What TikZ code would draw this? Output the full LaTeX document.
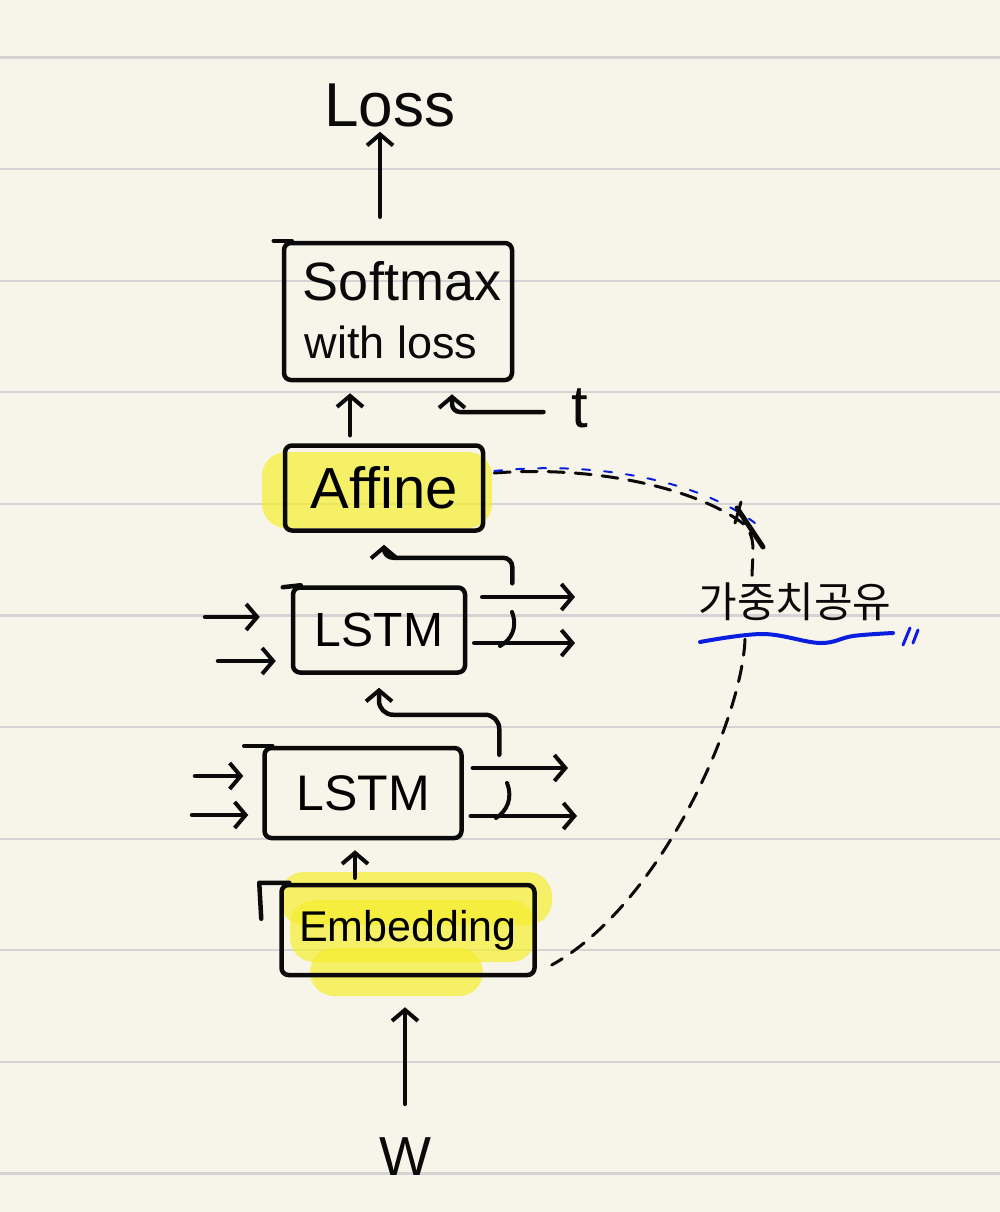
\documentclass[tikz,border=0pt]{standalone}
\usepackage{fontspec}
\setmainfont{Liberation Sans}
\newfontfamily\krfont{Noto Sans CJK KR}
\usetikzlibrary{arrows.meta,calc}
\definecolor{paper}{HTML}{F7F5EA}
\definecolor{rulecol}{HTML}{D4D4D4}
\definecolor{hl}{HTML}{F5EE2E}
\definecolor{ink}{HTML}{0A0A0A}
\definecolor{pen}{HTML}{0A1EE0}
\begin{document}
\begin{tikzpicture}[x=1pt,y=-1pt,
  box/.style={draw=ink,line width=4.5pt,rounded corners=7pt,inner sep=0pt},
  lbl/.style={text=ink,inner sep=0pt},
  stroke/.style={draw=ink,line width=4.5pt,line cap=round,line join=round},
  arr/.style={stroke,-{Straight Barb[length=11pt,width=26pt,line width=4pt]}},
  share/.style={draw=ink,line width=3pt,line cap=round,dash pattern=on 16pt off 11pt},
  hilite/.style={fill=hl,opacity=0.7,rounded corners=24pt}]
% paper
\fill[paper] (0,0) rectangle (1000,1212);
\useasboundingbox (0,0) rectangle (1000,1212);
\foreach \k in {0,...,10}
  \draw[rulecol,line width=2.2pt] (0,57.5+111.6*\k) -- (1000,57.5+111.6*\k);
% highlights
\fill[hilite] (262,452) rectangle (492,528);
\fill[hilite] (280,872) rectangle (552,925);
\fill[hilite] (290,900) rectangle (535,962);
\fill[hilite] (310,948) rectangle (483,996);
% nodes
\node[lbl,font=\fontsize{62}{66}\selectfont] (loss) at (390,105) {Loss};
\node[box,minimum width=228pt,minimum height=137pt] (softmax) at (398,311.5) {};
\node[lbl,anchor=base,font=\fontsize{54}{60}\selectfont] (smtop) at (402,300) {Softmax};
\node[lbl,anchor=base,font=\fontsize{45}{50}\selectfont] (smbot) at (391,358) {with loss};
\node[lbl,font=\fontsize{60}{64}\selectfont] (t) at (580,408) {t};
\node[box,minimum width=198pt,minimum height=85pt,font=\fontsize{58}{60}\selectfont] (affine) at (384,488) {Affine};
\node[box,minimum width=172pt,minimum height=85pt,font=\fontsize{48}{52}\selectfont] (lstm2) at (379,630) {LSTM};
\node[box,minimum width=197pt,minimum height=90pt,font=\fontsize{50}{54}\selectfont] (lstm1) at (363,793) {LSTM};
\node[box,minimum width=253pt,minimum height=90pt,font=\fontsize{43}{48}\selectfont] (embed) at (408,930) {Embedding};
\node[lbl,font=\fontsize{55}{58}\selectfont] (w) at (405,1157) {W};
\node[lbl,font=\krfont\fontsize{42}{46}\selectfont] (sharelbl) at (795,602) {가중치공유};
% box overhangs (hand drawn)
\draw[stroke] ($(softmax.north west)+(10,0)$) -- ++(-18,0);
\draw[stroke] ($(lstm2.north west)+(10,0)$) -- ++(-18,2);
\draw[stroke] ($(lstm1.north west)+(10,0)$) -- ++(-28,0);
\draw[stroke] ($(embed.north west)+(10,0)$) -- ++(-30,0) -- ++(2,36);
% vertical connectors
\coordinate (l1) at ($(softmax.north)+(-18,0)$);
\draw[arr,shorten <=24pt,shorten >=5pt] (l1) -- (l1 |- loss.south);
\coordinate (a1) at ($(softmax.south)+(-48,0)$);
\draw[arr,shorten <=8pt,shorten >=11pt] (a1 |- affine.north) -- (a1);
\draw[arr,rounded corners=8pt,shorten >=12pt] ($(t.west)+(-28,4)$) -| ($(softmax.south)+(54,0)$);
\draw[arr,rounded corners=9pt] ($(lstm2.north east)+(45,-2)$) |- ($(affine.south)+(0,25)$) -- ($(affine.south)+(0,12)$);
\draw[arr,rounded corners=14pt] ($(lstm1.north east)+(35.5,9)$) |- ($(lstm2.south)+(0,40)$) -- ($(lstm2.south)+(0,13)$);
\coordinate (e1) at ($(lstm1.south)+(-8,0)$);
\draw[arr,shorten <=5pt,shorten >=10pt] (e1 |- embed.north) -- (e1);
\draw[arr,shorten <=34pt,shorten >=30pt] (w.north) -- (w.north |- embed.south);
% side inputs
\coordinate (in2a) at (205,617);
\coordinate (in2b) at (218,661);
\coordinate (in1a) at (195,776);
\coordinate (in1b) at (192,815);
\draw[arr,shorten >=31pt] (in2a) -- (in2a -| lstm2.west);
\draw[arr,shorten >=15pt] (in2b) -- (in2b -| lstm2.west);
\draw[arr,shorten >=19pt] (in1a) -- (in1a -| lstm1.west);
\draw[arr,shorten >=14pt] (in1b) -- (in1b -| lstm1.west);
% side outputs
\coordinate (out2a) at (575,597);
\coordinate (out2b) at (575,643);
\coordinate (out1a) at (568,768);
\coordinate (out1b) at (577,816);
\draw[arr,shorten <=15pt] (out2a -| lstm2.east) -- (out2a);
\draw[arr,shorten <=7pt] (out2b -| lstm2.east) -- (out2b);
\draw[arr,shorten <=9pt] (out1a -| lstm1.east) -- (out1a);
\draw[arr,shorten <=7pt] (out1b -| lstm1.east) -- (out1b);
\draw[stroke,line width=4pt] (512,612) .. controls (518,628) and (511,640) .. (500,646);
\draw[stroke,line width=4pt] (507,783) .. controls (513,798) and (507,811) .. (496,818);
% weight sharing (dashed)
\draw[share] ($(affine.east)+(9,-15)$) .. controls (600,465) and (700,490) .. (745,525)
  .. controls (757,540) and (752,555) .. ($(sharelbl.north)+(-43,-4)$);
\draw[pen,line width=2pt,line cap=round,dash pattern=on 8pt off 14pt]
  ($(affine.east)+(9,-17)$) .. controls (600,460) and (700,482) .. (755,523);
\draw[stroke,line width=5pt] (737,508) -- (763,547);
\draw[stroke,line width=3pt] (741,502) -- (735,523);
\draw[share] ($(sharelbl.south)+(-50,18)$) .. controls (742,720) and (660,905) .. ($(embed.east)+(15,35)$);
% underline
\draw[pen,line width=4pt,line cap=round] plot[smooth,tension=0.6] coordinates {(700,642) (763,634) (820,643) (853,636) (893,633)};
\draw[pen,line width=3pt,line cap=round] (903,645) -- (910,628) (913,643) -- (918,630);
\end{tikzpicture}
\end{document}
